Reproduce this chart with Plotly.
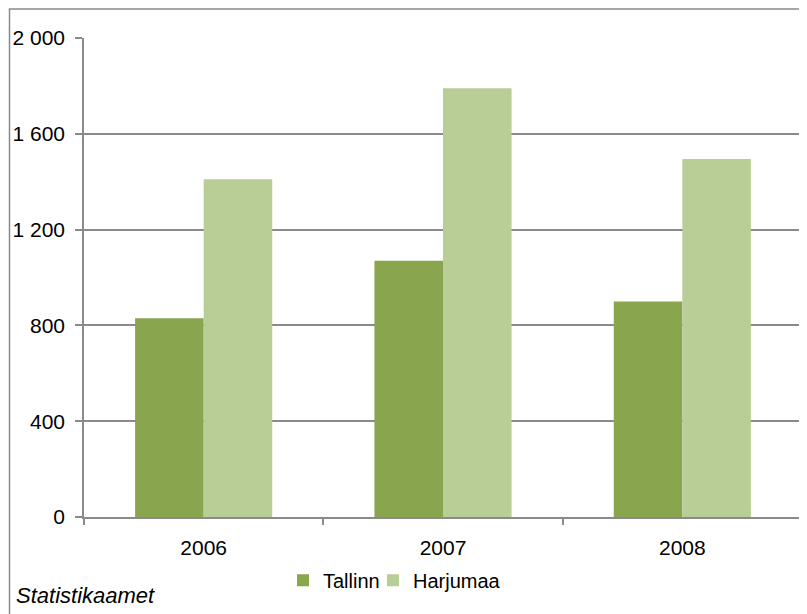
import plotly.graph_objects as go

years = ["2006", "2007", "2008"]
tallinn = [830, 1070, 900]
harjumaa = [1410, 1790, 1495]
series_names = ["Tallinn", "Harjumaa"]
colors = ["#89A54E", "#B9CD96"]
source_text = "Statistikaamet"
y_ticks = [0, 400, 800, 1200, 1600, 2000]

# page offset caused by the default 8px body margin
OX, OY = 8, 8
W, H = 799, 606
# plot area in page coordinates (reference): x 84..802, y 37.5..517.5
L = 84 - OX
R = W - (802 - OX)
T = 37.5 - OY
B = H - (517.5 - OY)
pw = W - L - R
ph = H - T - B


def px_x(p):
    return (p - OX - L) / pw


def px_y(p):
    return (H - B - (p - OY)) / ph


grid = "#8a8a8a"
fam = "Liberation Sans, Arial, sans-serif"
tick_font = dict(family=fam, size=21, color="#000000")
leg_font = dict(family=fam, size=20, color="#000000")

fig = go.Figure()
fig.add_trace(go.Bar(x=years, y=tallinn, name=series_names[0], marker_color=colors[0],
                     marker_line_width=0, legend="legend"))
fig.add_trace(go.Bar(x=years, y=harjumaa, name=series_names[1], marker_color=colors[1],
                     marker_line_width=0, legend="legend2"))

leg_common = dict(orientation="h", xanchor="left", y=px_y(581), yanchor="middle",
                  font=leg_font, bgcolor="rgba(0,0,0,0)")

fig.update_layout(
    width=W, height=H,
    margin=dict(l=L, r=R, t=T, b=B, pad=0),
    paper_bgcolor="white", plot_bgcolor="white",
    font=leg_font,
    separators=", ",
    barmode="group", bargap=0.427, bargroupgap=0,
    showlegend=True,
    legend=dict(x=px_x(283), **leg_common),
    legend2=dict(x=px_x(373), **leg_common),
    xaxis=dict(type="category", showline=True, linecolor=grid, linewidth=1.5,
               ticks="outside", tickson="boundaries", ticklen=6, tickcolor=grid, tickwidth=1.5,
               showgrid=False, ticklabelstandoff=11, tickfont=tick_font, fixedrange=True),
    yaxis=dict(range=[0, 2000], tickvals=y_ticks, separatethousands=True,
               showline=True, linecolor=grid, linewidth=1.5,
               ticks="outside", ticklen=7, tickcolor=grid, tickwidth=1.5,
               showgrid=True, gridcolor=grid, gridwidth=1.5, zeroline=False,
               ticklabelstandoff=6, tickfont=tick_font, fixedrange=True),
    shapes=[dict(type="rect", xref="paper", yref="paper",
                 x0=px_x(9.5), x1=px_x(830), y0=px_y(640), y1=px_y(8.5),
                 line=dict(color=grid, width=1.5), fillcolor="rgba(0,0,0,0)", layer="below")],
    annotations=[dict(text="<i>" + source_text + "</i>", xref="paper", yref="paper",
                      x=px_x(14), y=px_y(596), xanchor="left", yanchor="middle", showarrow=False,
                      font=dict(family=fam, size=22, color="#000000"))],
)

fig.write_html("out.html")
